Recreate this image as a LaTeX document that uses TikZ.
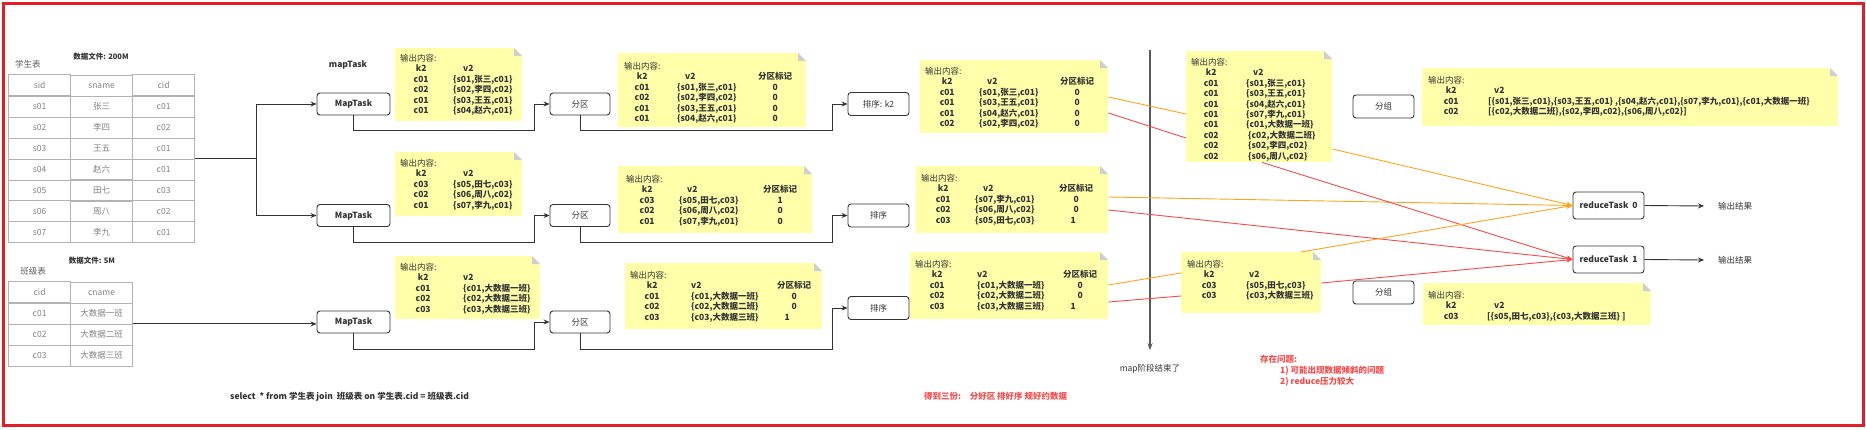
\documentclass[tikz,border=0pt]{standalone}
\usepackage{fontspec}
\setmainfont{Noto Sans CJK SC}
\usepackage{array}
\usepackage{xcolor}
\definecolor{mrred}{HTML}{E31E24}
\definecolor{mrdark}{HTML}{333333}
\definecolor{mrgray}{HTML}{808080}
\definecolor{mrgrid}{HTML}{B3B3B3}
\definecolor{mrnote}{HTML}{FFFFAA}
\definecolor{mrfold}{HTML}{CFCFCF}
\definecolor{mrorange}{HTML}{FFA41C}
\definecolor{mrline}{HTML}{F54B4B}
\definecolor{mraxis}{HTML}{595959}
\usetikzlibrary{arrows.meta,positioning,matrix,calc}
\newcommand\notefont{\fontsize{8.5}{10.4}\selectfont}
\newcommand\boxfont{\fontsize{8.5}{10}\selectfont}
\newcommand\tinyfont{\fontsize{7.5}{9}\selectfont}

\begin{document}
\begin{tikzpicture}[x=1pt,y=-1pt,
  bx/.style={draw=mrdark, line width=0.9pt, rounded corners=3pt, fill=white,
             minimum height=22pt, inner sep=0pt, font=\boxfont, text=mrdark},
  note/.style={fill=mrnote, inner sep=0pt, anchor=north west,
    path picture={
      \fill[white] (path picture bounding box.north east) -- ++(-8pt,0pt) -- ++(8pt,-8pt) -- cycle;
      \fill[mrfold] ([xshift=-8pt]path picture bounding box.north east) -- ++(0pt,-8pt) -- ++(8pt,0pt) -- cycle;}},
  ntxt/.style={inner sep=0pt, anchor=north west, font=\notefont\bfseries, text=mrdark},
  tbl/.style={matrix of nodes, inner sep=0pt, anchor=north west,
    column sep=-0.8pt, row sep=-0.8pt,
    nodes={draw=mrgrid, line width=0.8pt, minimum width=62pt, minimum height=20.75pt,
           inner sep=0pt, font=\boxfont, text=mrgray}},
  lbl/.style={inner sep=0pt, font=\boxfont, text=mrdark},
  arr/.style={-{Stealth[length=6pt,width=5pt]}, draw=mrdark, line width=0.9pt},
  oln/.style={draw=mrorange, line width=0.9pt},
  rln/.style={draw=mrline, line width=0.9pt},
  oarr/.style={oln, -{Stealth[length=6pt,width=5pt]}},
  rarr/.style={rln, -{Stealth[length=6pt,width=5pt]}}
]
  \useasboundingbox (0,0) rectangle (1866,429);
  \draw[mrred, line width=3pt] (3,3) rectangle (1863,425);

  %% Input tables
  \node[lbl, text=mrgray!70!black] (stuname) at (28,64) {学生表};
  \node[lbl, font=\tinyfont\bfseries] (stusize) at (101,57) {数据文件: 200M};
  \matrix[tbl] (stu) at (8,74) {
    sid & sname & cid \\
    s01 & 张三 & c01 \\
    s02 & 李四 & c02 \\
    s03 & 王五 & c01 \\
    s04 & 赵六 & c01 \\
    s05 & 田七 & c03 \\
    s06 & 周八 & c02 \\
    s07 & 李九 & c01 \\
  };
  \node[lbl, text=mrgray!70!black] (clsname) at (33,271) {班级表};
  \node[lbl, font=\tinyfont\bfseries] (clssize) at (92,261) {数据文件: 5M};
  \matrix[tbl] (cls) at (8,281) {
    cid & cname \\
    c01 & 大数据一班 \\
    c02 & 大数据二班 \\
    c03 & 大数据三班 \\
  };

  %% Map side
  \node[lbl, font=\boxfont\bfseries] (maplbl) at (348,65) {mapTask};
  \node[bx, minimum width=73pt, font=\boxfont\bfseries] (mt1) at (353.5,104)   {MapTask};
  \node[bx, minimum width=73pt, font=\boxfont\bfseries] (mt2) at (353.5,215.5) {MapTask};
  \node[bx, minimum width=73pt, font=\boxfont\bfseries] (mt3) at (353.5,322)   {MapTask};
  \node[bx, minimum width=60pt] (fq1) at (580,104)   {分区};
  \node[bx, minimum width=60pt] (fq2) at (580,215.5) {分区};
  \node[bx, minimum width=60pt] (fq3) at (580,322)   {分区};
  \node[bx, minimum width=61pt, minimum height=23pt] (px1) at (878.5,104)   {排序: k2};
  \node[bx, minimum width=61pt, minimum height=23pt] (px2) at (878.5,215.5) {排序};
  \node[bx, minimum width=61pt, minimum height=23pt] (px3) at (878.5,308)   {排序};

  \draw[arr] (stu.east) -- ++(61,0) coordinate (jn) |- (mt1.west);
  \draw[arr] (jn) |- (mt2.west);
  \draw[arr] (cls.east) -- (cls.east -| mt3.west);
  \draw[arr] (mt1.south) -- ++(0,15) -| ([xshift=-15pt]fq1.west) -- (fq1.west);
  \draw[arr] (mt2.south) -- ++(0,15) -| ([xshift=-15pt]fq2.west) -- (fq2.west);
  \draw[arr] (mt3.south) -- ++(0,16) -| ([xshift=-15pt]fq3.west) -- (fq3.west);
  \draw[arr] (fq1.south) -- ++(0,15) -| ([xshift=-15pt]px1.west) -- (px1.west);
  \draw[arr] (fq2.south) -- ++(0,15) -| ([xshift=-15pt]px2.west) -- (px2.west);
  \draw[arr] (fq3.south) -- ++(0,16) -| ([xshift=-15pt]px3.west) -- (px3.west);

  %% MapTask output
  \node[note, minimum width=127pt, minimum height=73pt] (mo1) at (395,48) {};
  \node[ntxt] (mo1t) at ([shift={(5,6)}]mo1.north west) {%
    \begin{tabular}{@{}w{c}{42pt}@{\hspace{11pt}}l@{}}
    \multicolumn{2}{@{}l@{}}{\mdseries 输出内容:}\\
    k2  & \hspace*{10pt}v2\\
    c01 & \{s01,张三,c01\}\\
    c02 & \{s02,李四,c02\}\\
    c01 & \{s03,王五,c01\}\\
    c01 & \{s04,赵六,c01\}
    \end{tabular}};
  \node[note, minimum width=127pt, minimum height=64pt] (mo2) at (395,152) {};
  \node[ntxt] (mo2t) at ([shift={(5,7)}]mo2.north west) {%
    \begin{tabular}{@{}w{c}{42pt}@{\hspace{11pt}}l@{}}
    \multicolumn{2}{@{}l@{}}{\mdseries 输出内容:}\\
    k2  & \hspace*{10pt}v2\\
    c03 & \{s05,田七,c03\}\\
    c02 & \{s06,周八,c02\}\\
    c01 & \{s07,李九,c01\}
    \end{tabular}};
  \node[note, minimum width=145pt, minimum height=63pt] (mo3) at (395,256) {};
  \node[ntxt] (mo3t) at ([shift={(5,7)}]mo3.north west) {%
    \begin{tabular}{@{}w{c}{46pt}@{\hspace{17pt}}l@{}}
    \multicolumn{2}{@{}l@{}}{\mdseries 输出内容:}\\
    k2  & v2\\
    c01 & \{c01,大数据一班\}\\
    c02 & \{c02,大数据二班\}\\
    c03 & \{c03,大数据三班\}
    \end{tabular}};

  %% Partition output
  \node[note, minimum width=188pt, minimum height=74pt] (pa1) at (618,53) {};
  \node[ntxt] (pa1t) at ([shift={(6,9)}]pa1.north west) {%
    \begin{tabular}{@{}w{c}{36pt}@{\hspace{17pt}}w{l}{60pt}w{c}{52pt}@{}}
    \multicolumn{3}{@{}l@{}}{\mdseries 输出内容:}\\
    k2  & \hspace*{8pt}v2 & 分区标记\\
    c01 & \{s01,张三,c01\} & 0\\
    c02 & \{s02,李四,c02\} & 0\\
    c01 & \{s03,王五,c01\} & 0\\
    c01 & \{s04,赵六,c01\} & 0
    \end{tabular}};
  \node[note, minimum width=194pt, minimum height=67pt] (pa2) at (618,166) {};
  \node[ntxt] (pa2t) at ([shift={(8,9)}]pa2.north west) {%
    \begin{tabular}{@{}w{c}{42pt}@{\hspace{11pt}}w{l}{60pt}w{c}{58pt}@{}}
    \multicolumn{3}{@{}l@{}}{\mdseries 输出内容:}\\
    k2  & \hspace*{8pt}v2 & 分区标记\\
    c03 & \{s05,田七,c03\} & 1\\
    c02 & \{s06,周八,c02\} & 0\\
    c01 & \{s07,李九,c01\} & 0
    \end{tabular}};
  \node[note, minimum width=197pt, minimum height=66pt] (pa3) at (625,263) {};
  \node[ntxt] (pa3t) at ([shift={(5,8)}]pa3.north west) {%
    \begin{tabular}{@{}w{c}{44pt}@{\hspace{17pt}}w{l}{70pt}w{c}{42pt}@{}}
    \multicolumn{3}{@{}l@{}}{\mdseries 输出内容:}\\
    k2  & v2 & 分区标记\\
    c01 & \{c01,大数据一班\} & 0\hspace*{14pt}\\
    c02 & \{c02,大数据二班\} & 0\hspace*{14pt}\\
    c03 & \{c03,大数据三班\} & 1\hspace*{14pt}
    \end{tabular}};

  %% Sort output
  \node[note, minimum width=188pt, minimum height=73pt] (so1) at (920,60) {};
  \node[ntxt] (so1t) at ([shift={(5,7)}]so1.north west) {%
    \begin{tabular}{@{}w{c}{44pt}@{\hspace{10pt}}w{l}{60pt}w{c}{52pt}@{}}
    \multicolumn{3}{@{}l@{}}{\mdseries 输出内容:}\\
    k2  & \hspace*{8pt}v2 & 分区标记\\
    c01 & \{s01,张三,c01\} & 0\\
    c01 & \{s03,王五,c01\} & 0\\
    c01 & \{s04,赵六,c01\} & 0\\
    c02 & \{s02,李四,c02\} & 0
    \end{tabular}};
  \node[note, minimum width=192pt, minimum height=67pt] (so2) at (916,166) {};
  \node[ntxt] (so2t) at ([shift={(5,8)}]so2.north west) {%
    \begin{tabular}{@{}w{c}{44pt}@{\hspace{10pt}}w{l}{60pt}w{c}{58pt}@{}}
    \multicolumn{3}{@{}l@{}}{\mdseries 输出内容:}\\
    k2  & \hspace*{8pt}v2 & 分区标记\\
    c01 & \{s07,李九,c01\} & 0\hspace*{6pt}\\
    c02 & \{s06,周八,c02\} & 0\hspace*{6pt}\\
    c03 & \{s05,田七,c03\} & 1\hspace*{6pt}
    \end{tabular}};
  \node[note, minimum width=198pt, minimum height=67pt] (so3) at (910,252) {};
  \node[ntxt] (so3t) at ([shift={(5,8)}]so3.north west) {%
    \begin{tabular}{@{}w{c}{44pt}@{\hspace{18pt}}w{l}{70pt}w{c}{42pt}@{}}
    \multicolumn{3}{@{}l@{}}{\mdseries 输出内容:}\\
    k2  & v2 & 分区标记\\
    c01 & \{c01,大数据一班\} & 0\hspace*{14pt}\\
    c02 & \{c02,大数据二班\} & 0\hspace*{14pt}\\
    c03 & \{c03,大数据三班\} & 1\hspace*{14pt}
    \end{tabular}};

  %% Map phase ends
  \coordinate (axtop) at (1150,50);
  \node[lbl] (mapend) at (1150,369) {map阶段结束了};
  \draw[-{Stealth[length=7pt,width=5pt]}, draw=mraxis, line width=1.5pt]
    (axtop) -- ([yshift=14pt]mapend.north);

  %% Reduce side
  \node[note, minimum width=146pt, minimum height=111pt] (gr1) at (1186,51) {};
  \node[ntxt] (gr1t) at ([shift={(5,7)}]gr1.north west) {%
    \begin{tabular}{@{}w{c}{40pt}@{\hspace{15pt}}l@{}}
    \multicolumn{2}{@{}l@{}}{\mdseries 输出内容:}\\
    k2  & \hspace*{7pt}v2\\
    c01 & \{s01,张三,c01\}\\
    c01 & \{s03,王五,c01\}\\
    c01 & \{s04,赵六,c01\}\\
    c01 & \{s07,李九,c01\}\\
    c01 & \{c01,大数据一班\}\\
    c02 & \hspace*{2pt}\{c02,大数据二班\}\\
    c02 & \hspace*{2pt}\{s02,李四,c02\}\\
    c02 & \hspace*{2pt}\{s06,周八,c02\}
    \end{tabular}};
  \node[note, minimum width=140pt, minimum height=61pt] (gr2) at (1181,252) {};
  \node[ntxt] (gr2t) at ([shift={(6,8)}]gr2.north west) {%
    \begin{tabular}{@{}w{c}{44pt}@{\hspace{15pt}}l@{}}
    \multicolumn{2}{@{}l@{}}{\mdseries 输出内容:}\\
    k2  & \hspace*{3pt}v2\\
    c03 & \{s05,田七,c03\}\\
    c03 & \{c03,大数据三班\}
    \end{tabular}};
  \node[bx, minimum width=61pt, minimum height=23pt] (fz1) at (1383.5,106.5) {分组};
  \node[bx, minimum width=61pt, minimum height=23pt] (fz2) at (1383.5,292.5) {分组};
  \node[note, minimum width=416pt, minimum height=58pt] (fo1) at (1422,68) {};
  \node[ntxt] (fo1t) at ([shift={(6,8)}]fo1.north west) {%
    \begin{tabular}{@{}w{c}{46pt}@{\hspace{14pt}}l@{}}
    \multicolumn{2}{@{}l@{}}{\mdseries 输出内容:}\\
    k2  & \hspace*{6pt}v2\\
    c01 & [\{s01,张三,c01\},\{s03,王五,c01\} ,\{s04,赵六,c01\},\{s07,李九,c01\},\{c01,大数据一班\}\\
    c02 & [\{c02,大数据二班\},\{s02,李四,c02\},\{s06,周八,c02\}]
    \end{tabular}};
  \node[note, minimum width=228pt, minimum height=42pt] (fo2) at (1423,283) {};
  \node[ntxt] (fo2t) at ([shift={(5,8)}]fo2.north west) {%
    \begin{tabular}{@{}w{c}{46pt}@{\hspace{13pt}}l@{}}
    \multicolumn{2}{@{}l@{}}{\mdseries 输出内容:}\\
    k2  & \hspace*{7pt}v2\\
    c03 & [\{s05,田七,c03\},\{c03,大数据三班\} ]
    \end{tabular}};

  \node[bx, minimum width=71pt, minimum height=27pt, font=\boxfont\bfseries] (rt0) at (1608.5,205.5) {reduceTask~ 0};
  \node[bx, minimum width=71pt, minimum height=27pt, font=\boxfont\bfseries] (rt1) at (1608.5,259.5) {reduceTask~ 1};
  \node[lbl, anchor=west] (out0) at (1718,206) {输出结果};
  \node[lbl, anchor=west] (out1) at (1718,260) {输出结果};
  \draw[arr] (rt0.east) -- ([xshift=-14pt]out0.west);
  \draw[arr] (rt1.east) -- ([xshift=-14pt]out1.west);

  %% Shuffle lines
  \draw[oln] ($(so1.north east)+(0,37)$) -- ($(gr1.north west)+(0,63)$);
  \draw[rln] ($(so1.north east)+(0,53)$) -- ($(gr1.north west)+(0,87)$);
  \draw[oarr] ($(so2.north east)+(0,31)$) -- (rt0.west);
  \draw[rarr] ($(so2.north east)+(0,44)$) -- (rt1.west);
  \draw[oln] ($(so3.north east)+(0,33)$) -- ($(gr2.north west)+(0,21)$);
  \draw[rln] ($(so3.north east)+(0,50)$) -- ($(gr2.north west)+(0,44)$);
  \draw[oarr] ($(gr1.north east)+(0,98)$) -- (rt0.west);
  \draw[rarr] ($(gr1.south west)+(76,0)$) -- (rt1.west);
  \draw[oarr] ($(gr2.north west)+(120,0)$) -- (rt0.west);
  \draw[rarr] ($(gr2.north east)+(0,31)$) -- (rt1.west);

  %% Notes at the bottom
  \node[lbl, anchor=west, font=\boxfont\bfseries] (sqltxt) at (230,397)
    {select~ * from 学生表 join~ 班级表 on 学生表.cid = 班级表.cid};
  \node[lbl, anchor=west, font=\boxfont\bfseries, text=mrline] (result) at (924,396)
    {得到三份:\hspace{6pt} 分好区 排好序 规好约数据};
  \node[lbl, anchor=west, align=left, font=\fontsize{8.5}{11}\selectfont\bfseries, text=mrline] (issue) at (1260,371)
    {存在问题:\\\hspace*{20pt}1) 可能出现数据倾斜的问题\\\hspace*{20pt}2) reduce压力较大};
\end{tikzpicture}
\end{document}
